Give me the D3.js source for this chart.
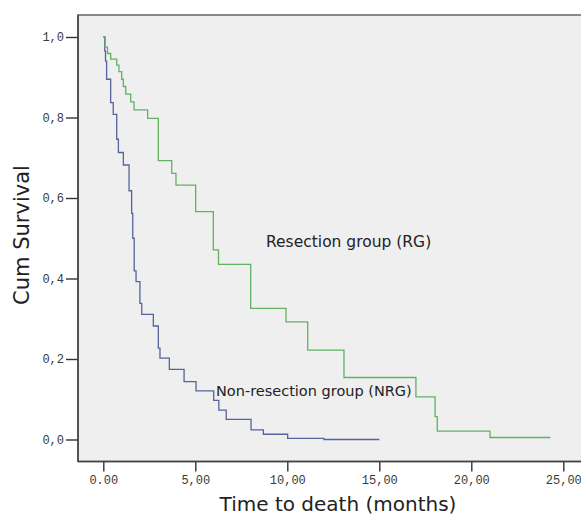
<!DOCTYPE html>
<meta charset="utf-8">
<head>
  <title>survival</title>
</head>
<style>
body { margin: 0; background: #fff; }
svg { display: block; }
.tick text { font-family: "Liberation Mono", "DejaVu Sans Mono", monospace; font-size: 12px; fill: #3a3a3a; }
.lbl { font-family: "DejaVu Sans", sans-serif; fill: #222; }
</style>
<body>
<svg id="chart"></svg>
<script src="https://cdn.jsdelivr.net/npm/d3@7"></script>
<script>

// Resection group (RG): time of each drop (months) and survival after it
var rgTime = [0, 0.10, 0.23, 0.40, 0.73, 0.85, 1.00, 1.09, 1.22, 1.49, 1.67, 2.41, 2.99, 3.72, 3.95, 5.02, 5.98, 6.26, 8.01, 9.93, 11.11, 13.08, 16.99, 18.03, 18.15, 21.02, 24.3];
var rgSurv = [1.0, 0.975, 0.959, 0.945, 0.930, 0.914, 0.895, 0.877, 0.858, 0.839, 0.819, 0.798, 0.693, 0.661, 0.632, 0.566, 0.471, 0.435, 0.326, 0.292, 0.222, 0.154, 0.106, 0.057, 0.021, 0.005, 0.005];

// Non-resection group (NRG)
var nrgTime = [0, 0.08, 0.12, 0.18, 0.40, 0.54, 0.73, 0.82, 1.09, 1.40, 1.54, 1.60, 1.68, 1.78, 1.99, 2.09, 2.72, 2.99, 3.08, 3.59, 4.39, 5.04, 6.00, 6.28, 6.68, 8.03, 8.70, 10.02, 11.99, 15.0];
var nrgSurv = [1.0, 0.965, 0.94, 0.895, 0.837, 0.808, 0.746, 0.713, 0.682, 0.618, 0.562, 0.500, 0.419, 0.392, 0.338, 0.311, 0.282, 0.227, 0.202, 0.174, 0.144, 0.121, 0.097, 0.073, 0.050, 0.024, 0.013, 0.003, 0.0, 0.0];

var xTicks = [0, 5, 10, 15, 20, 25];
var xTickLabels = ["0.00", "5,00", "10,00", "15,00", "20,00", "25,00"];
var yTicks = [0, 0.2, 0.4, 0.6, 0.8, 1.0];
var yTickLabels = ["0,0", "0,2", "0,4", "0,6", "0,8", "1,0"];

var width = 581, height = 517;
var frame = {left: 78, top: 15, bottom: 461.5};

var svg = d3.select("#chart").attr("width", width).attr("height", height);

var x = d3.scaleLinear().domain([0, 25]).range([103.3, 563.3]);
var y = d3.scaleLinear().domain([0, 1]).range([439.5, 37]);

// plot area background and frame (runs off the right edge like the original)
svg.append("rect")
  .attr("x", frame.left).attr("y", frame.top)
  .attr("width", width + 20 - frame.left).attr("height", frame.bottom - frame.top)
  .style("fill", "#efefef")
  .style("stroke", "#6e6e6e")
  .style("stroke-width", 1.6);

// axes
var xAxis = d3.axisBottom(x).tickValues(xTicks)
  .tickFormat(function(d, i){ return xTickLabels[i]; })
  .tickSize(10).tickPadding(4);
var yAxis = d3.axisLeft(y).tickValues(yTicks)
  .tickFormat(function(d, i){ return yTickLabels[i]; })
  .tickSize(12).tickPadding(2);

var gx = svg.append("g").attr("transform", "translate(0," + frame.bottom + ")").call(xAxis);
var gy = svg.append("g").attr("transform", "translate(" + frame.left + ",0)").call(yAxis);
gx.select(".domain").remove();
gy.select(".domain").remove();
svg.selectAll(".tick line").style("stroke", "#333").style("stroke-width", 1.4);

// axis lines on top of the frame
svg.append("line").attr("x1", frame.left).attr("x2", width + 5)
  .attr("y1", frame.bottom).attr("y2", frame.bottom)
  .style("stroke", "#444").style("stroke-width", 1.6);
svg.append("line").attr("x1", frame.left).attr("x2", frame.left)
  .attr("y1", frame.top).attr("y2", frame.bottom)
  .style("stroke", "#444").style("stroke-width", 1.6);

// survival curves
var line = d3.line()
  .x(function(d){ return x(d[0]); })
  .y(function(d){ return y(d[1]); })
  .curve(d3.curveStepAfter);

svg.append("path")
  .datum(d3.zip(nrgTime, nrgSurv))
  .attr("d", line)
  .style("fill", "none")
  .style("stroke", "#56639c")
  .style("stroke-width", 1.3);

svg.append("path")
  .datum(d3.zip(rgTime, rgSurv))
  .attr("d", line)
  .style("fill", "none")
  .style("stroke", "#62b262")
  .style("stroke-width", 1.3);

// group labels
svg.append("text").attr("class", "lbl")
  .attr("x", 266).attr("y", 247)
  .style("font-size", "15.5px")
  .text("Resection group (RG)");
svg.append("text").attr("class", "lbl")
  .attr("x", 216).attr("y", 396)
  .style("font-size", "14.5px")
  .text("Non-resection group (NRG)");

// axis titles
svg.append("text").attr("class", "lbl")
  .attr("x", 338).attr("y", 511)
  .attr("text-anchor", "middle")
  .style("font-size", "20px")
  .text("Time to death (months)");
svg.append("text").attr("class", "lbl")
  .attr("transform", "translate(29,235) rotate(-90)")
  .attr("text-anchor", "middle")
  .style("font-size", "21px")
  .text("Cum Survival");

</script>
</body>
